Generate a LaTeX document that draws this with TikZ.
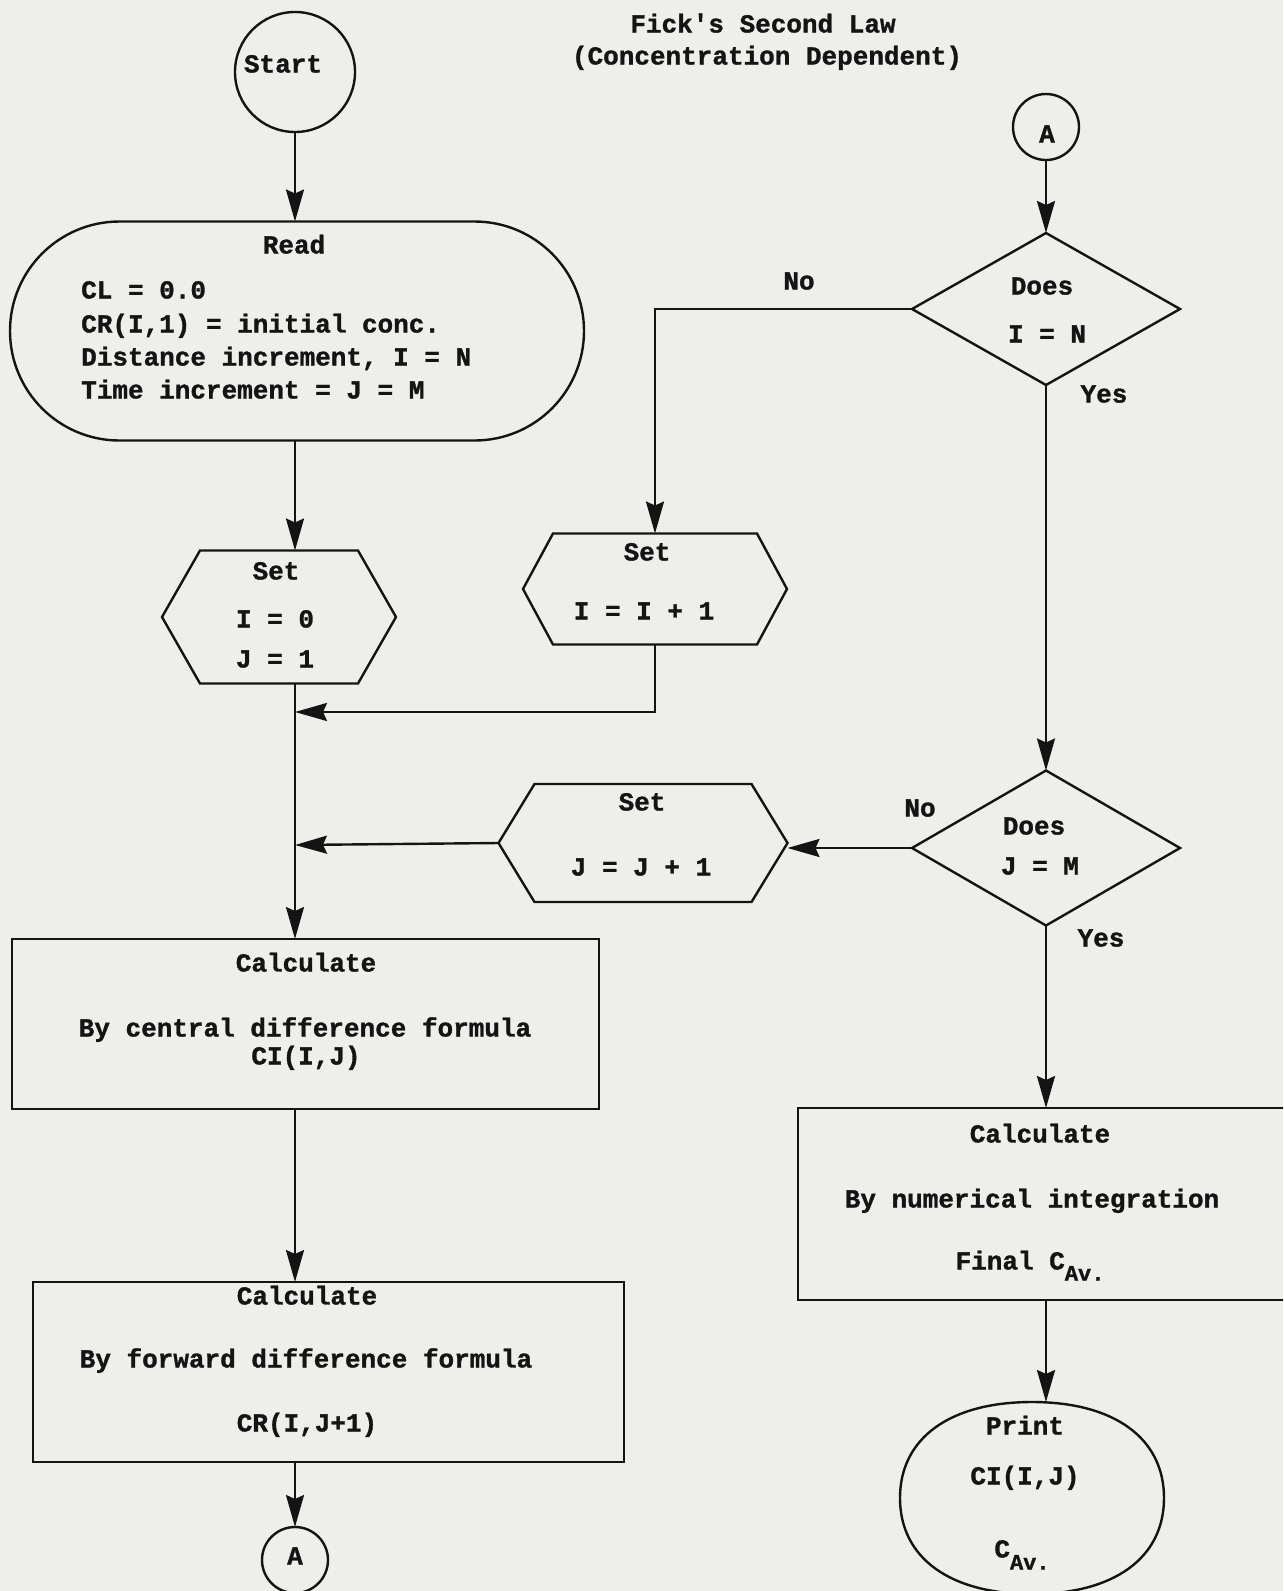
\documentclass[tikz,border=0pt]{standalone}
\usepackage{fontspec}
\newfontfamily\tw{Liberation Mono}[BoldFeatures={FakeBold=1.2}]
\usetikzlibrary{arrows.meta,shapes.geometric,shapes.misc,calc}
\definecolor{paper}{RGB}{238,238,235}
\definecolor{ink}{RGB}{20,20,20}
\newcommand\hexoutline[2]{\draw[ln] (#1.north west) -- (#1.north east) -- ([xshift=#2]#1.east) -- (#1.south east) -- (#1.south west) -- ([xshift=-#2]#1.west) -- cycle;}
\begin{document}
\begin{tikzpicture}[x=1pt,y=-1pt,
  ln/.style={draw=ink,line width=2.4pt},
  arr/.style={ln,-{Stealth[length=32pt,width=18pt,inset=4pt]}},
  txt/.style={inner sep=0pt,text height=15pt,text depth=0pt,font={\tw\bfseries\fontsize{26}{31}\selectfont},text=ink},
  shp/.style={inner sep=0pt,outer sep=0pt},
  box/.style={ln,shp,rectangle}]
\useasboundingbox (0,0) rectangle (1283,1591);
\clip (0,0) rectangle (1283,1591);
\fill[paper] (0,0) rectangle (1283,1591);

% title
\node[txt] (title1) at (763,25) {Fick's Second Law};
\node[txt] (title2) at (767,57) {(Concentration Dependent)};

% start
\node[ln,shp,circle,minimum size=120pt] (start) at (295,72) {};
\node[txt] (startt) at (283,65) {Start};

% read
\node[ln,shp,rounded rectangle,minimum width=574pt,minimum height=219pt] (read) at (297,331) {};
\node[txt] (readt) at (294,246) {Read};
\node[txt,anchor=west] (read1) at (81,291) {CL = 0.0};
\node[txt,anchor=west] (read2) at (81,325) {CR(I,1) = initial conc.};
\node[txt,anchor=west] (read3) at (81,358) {Distance increment, I = N};
\node[txt,anchor=west] (read4) at (81,391) {Time increment = J = M};

% hex1
\node[shp,rectangle,minimum width=158pt,minimum height=133pt] (hex1) at (279,617) {};
\hexoutline{hex1}{38pt}
\node[txt] (hex1a) at (276,572) {Set};
\node[txt] (hex1b) at (275,620) {I = 0};
\node[txt] (hex1c) at (275,660) {J = 1};

% hex2
\node[shp,rectangle,minimum width=204pt,minimum height=111pt] (hex2) at (655,589) {};
\hexoutline{hex2}{30pt}
\node[txt] (hex2a) at (647,553) {Set};
\node[txt] (hex2b) at (644,612) {I = I + 1};

% hex3
\node[shp,rectangle,minimum width=217pt,minimum height=118pt] (hex3) at (643,843) {};
\hexoutline{hex3}{36pt}
\coordinate (h3l) at ([xshift=-36pt]hex3.west);
\coordinate (h3r) at ([xshift=36pt]hex3.east);
\node[txt] (hex3a) at (642,803) {Set};
\node[txt] (hex3b) at (641,868) {J = J + 1};

% connector A top
\node[ln,shp,circle,minimum size=66pt] (atop) at (1046,127) {};
\node[txt] (atopt) at (1047,135) {A};

% diamonds
\node[ln,shp,diamond,minimum width=268pt,minimum height=152pt] (d1) at (1046,309) {};
\node[txt] (d1a) at (1042,287) {Does};
\node[txt] (d1b) at (1047,335) {I = N};
\node[ln,shp,diamond,minimum width=268pt,minimum height=155pt] (d2) at (1046,848) {};
\node[txt] (d2a) at (1034,827) {Does};
\node[txt] (d2b) at (1040,867) {J = M};

\node[txt] (no1) at (799,282) {No};
\node[txt] (yes1) at (1104,395) {Yes};
\node[txt] (no2) at (920,809) {No};
\node[txt] (yes2) at (1101,939) {Yes};

% calc boxes
\node[box,minimum width=587pt,minimum height=170pt] (calc1) at (305.5,1024) {};
\node[txt] (calc1a) at (306,964) {Calculate};
\node[txt] (calc1b) at (305,1029) {By central difference formula};
\node[txt] (calc1c) at (306,1057) {CI(I,J)};

\node[box,minimum width=591pt,minimum height=180pt] (calc2) at (328.5,1372) {};
\node[txt] (calc2a) at (307,1297) {Calculate};
\node[txt] (calc2b) at (306,1360) {By forward difference formula};
\node[txt] (calc2c) at (307,1424) {CR(I,J+1)};

\node[shp,rectangle,minimum width=492pt,minimum height=192pt] (calc3) at (1044,1204) {};
\draw[ln] (calc3.north east) -- (calc3.north west) -- (calc3.south west) -- (calc3.south east);
\node[txt] (calc3a) at (1040,1135) {Calculate};
\node[txt] (calc3b) at (1032,1200) {By numerical integration};
\node[txt] (calc3c) at (1030,1262) {Final C\raisebox{-11pt}{\fontsize{22}{22}\selectfont Av.}};

% print
\node[shp,rectangle,minimum width=264pt,minimum height=192pt] (print) at (1032,1498) {};
\draw[ln] (print.north) .. controls +(82,0) and +(0,-60) .. (print.east)
  .. controls +(0,60) and +(82,0) .. (print.south)
  .. controls +(-82,0) and +(0,60) .. (print.west)
  .. controls +(0,-60) and +(-82,0) .. (print.north) -- cycle;
\node[txt] (printa) at (1025,1427) {Print};
\node[txt] (printb) at (1025,1477) {CI(I,J)};
\node[txt] (printc) at (1022,1550) {C\raisebox{-12pt}{\fontsize{22}{22}\selectfont Av.}};

% connector A bottom
\node[ln,shp,circle,minimum size=66pt] (abot) at (295,1560) {};
\node[txt] (abott) at (295,1557) {A};

% junction points
\coordinate (j1) at (295,712);
\coordinate (j2) at (295,845);

% connectors
\draw[arr] (start.south) -- (start.south |- read.north);
\draw[arr] (read.south -| start.south) -- (hex1.north -| start.south);
\draw[arr] (hex1.south -| start.south) -- (calc1.north -| start.south);
\draw[arr] (calc1.south -| start.south) -- (calc2.north -| start.south);
\draw[arr] (calc2.south -| start.south) -- (abot.north);
\draw[arr] (atop.south) -- (d1.north);
\draw[arr] (d1.south) -- (d2.north);
\draw[arr] (d1.west) -| (hex2.north);
\draw[arr] (hex2.south) |- (j1);
\draw[arr] (d2.west) -- (d2.west -| h3r);
\draw[arr] (h3l) -- (j2);
\draw[arr] (d2.south) -- (d2.south |- calc3.north);
\draw[arr] (calc3.south -| d2.south) -- (print.north -| d2.south);
\end{tikzpicture}
\end{document}
